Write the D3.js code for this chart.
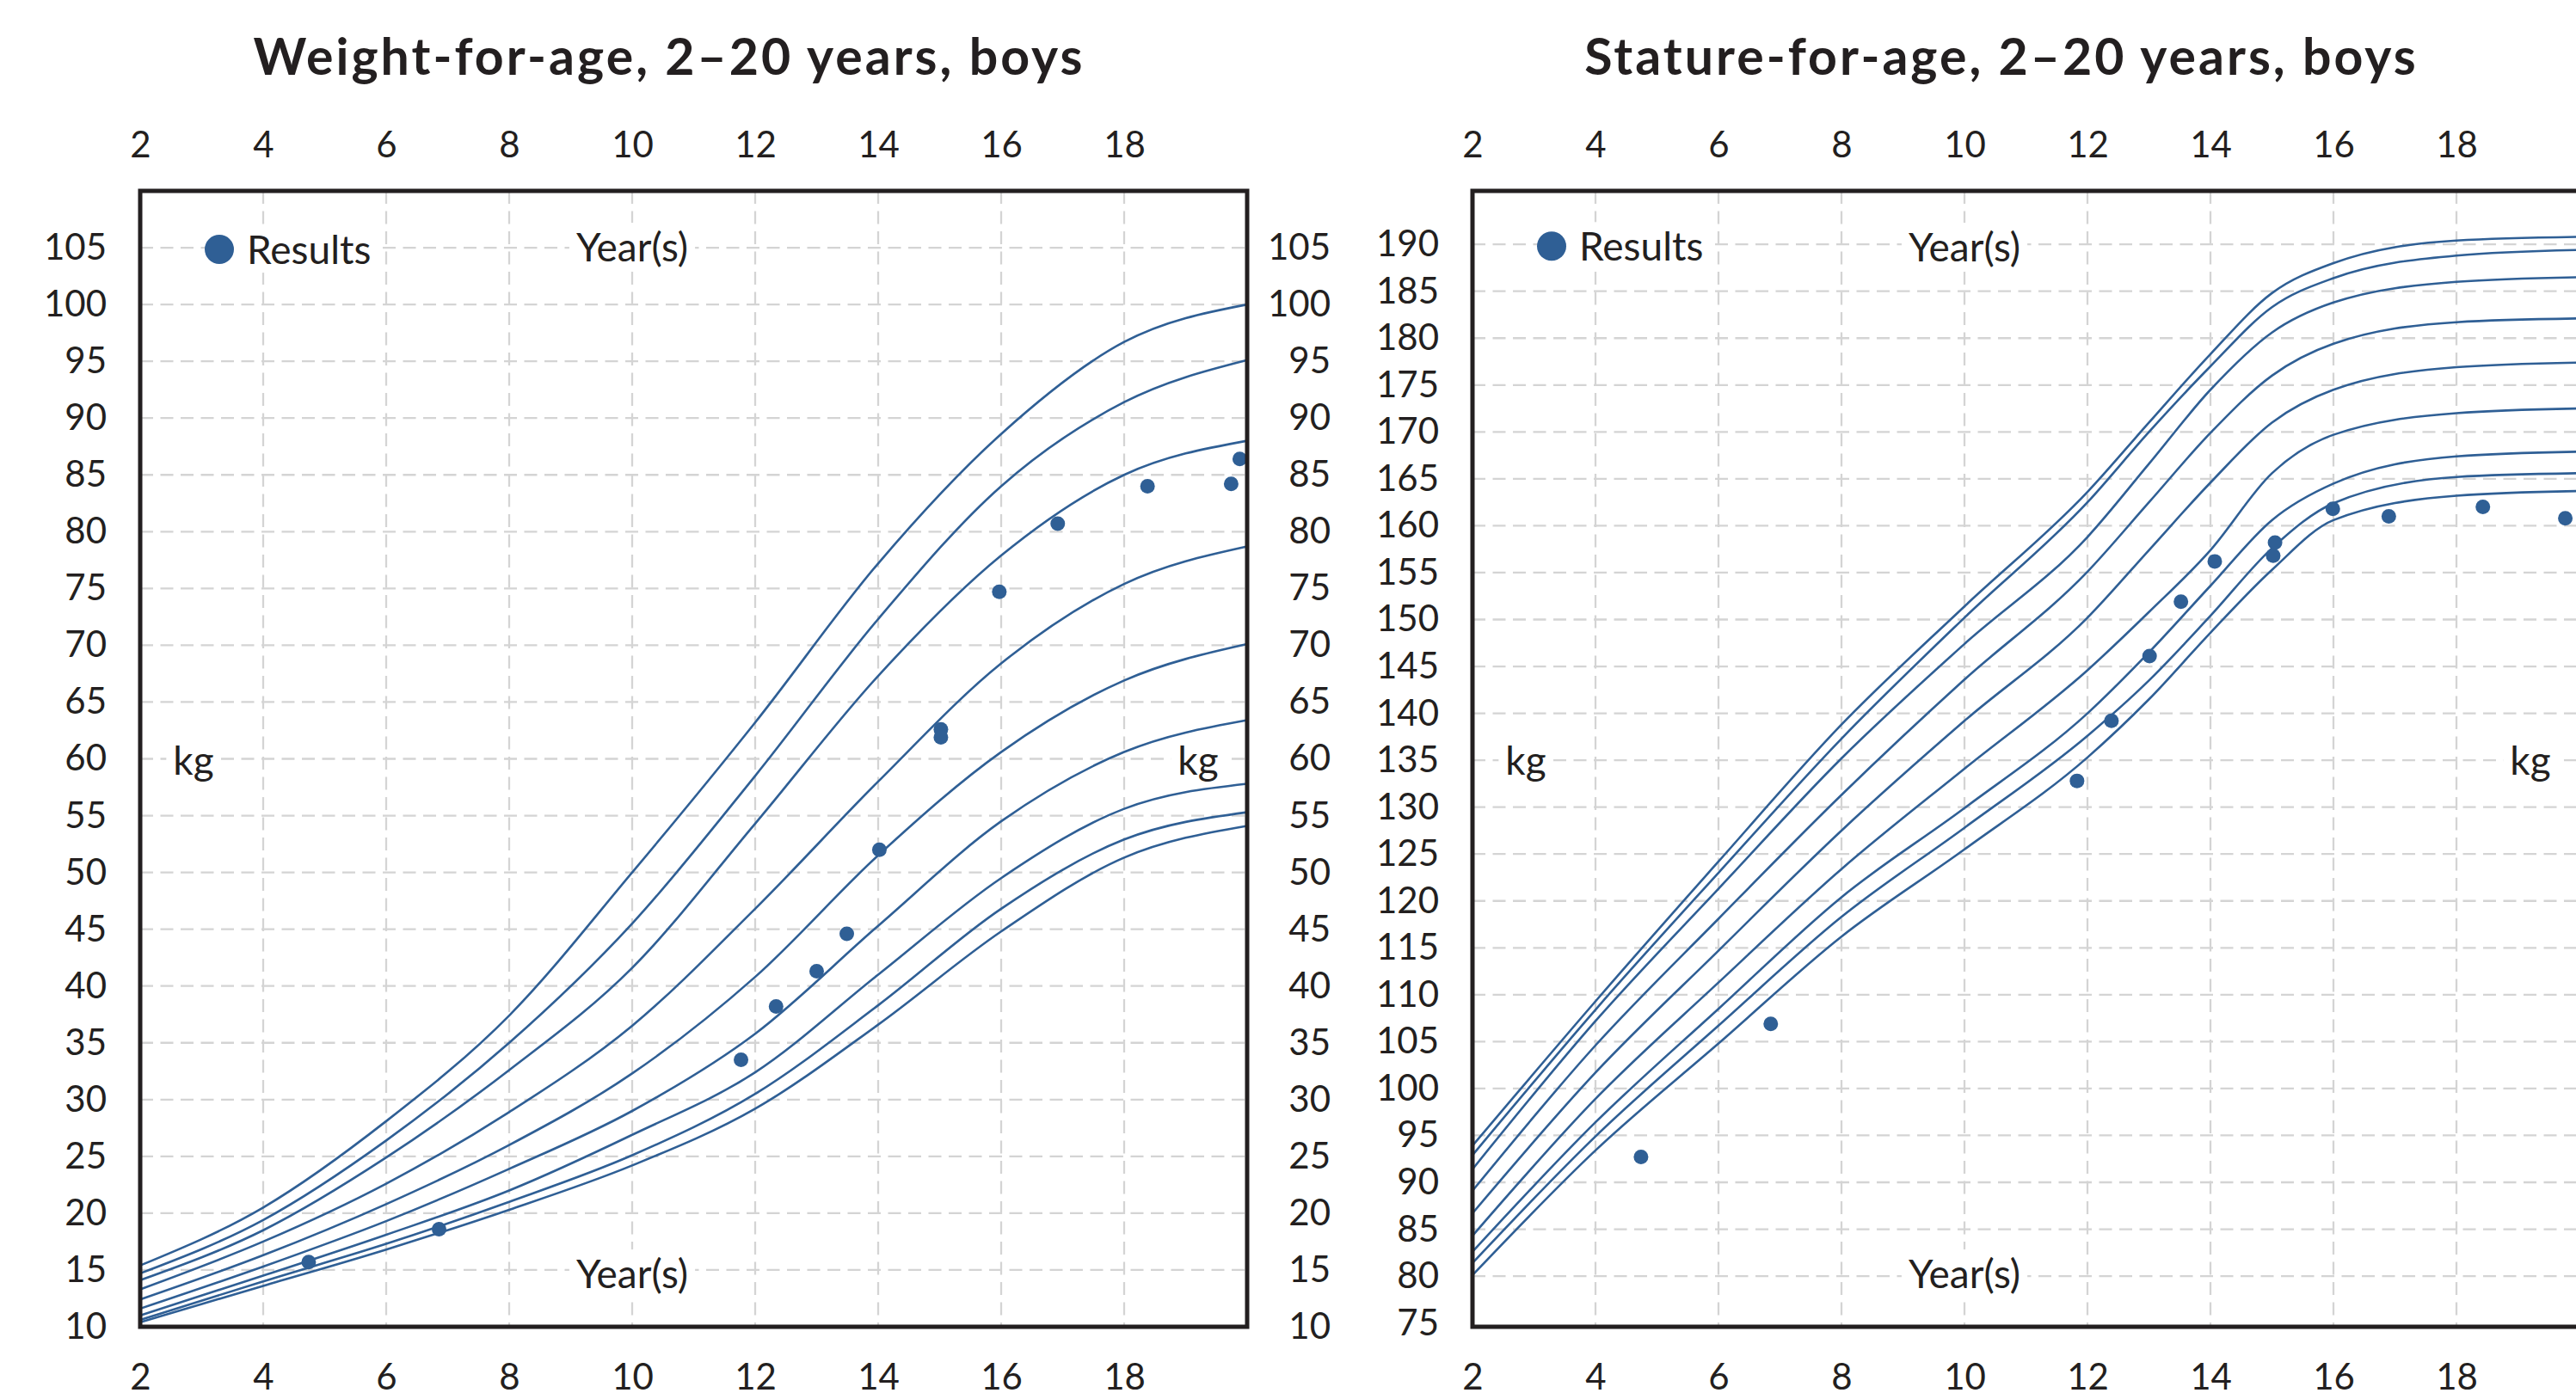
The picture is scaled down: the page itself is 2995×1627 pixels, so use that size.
<!DOCTYPE html>
<html>
<head>
<meta charset="utf-8">
<script src="https://cdn.jsdelivr.net/npm/d3@7"></script>
<style>
  body { margin: 0; background: #fff; }
  svg { display: block; font-family: Lato, "Open Sans", sans-serif; }
  .title { font-size: 59px; font-weight: 700; fill: #231f20; letter-spacing: 3px; }
  .axis text { font-size: 42px; fill: #231f20; font-family: Lato, "Open Sans", sans-serif; }
  .label { font-size: 46px; fill: #231f20; }
</style>
</head>
<body>
<svg width="2995" height="1627"></svg>
<script>
var yearTicks = [2, 4, 6, 8, 10, 12, 14, 16, 18];

// weight-for-age percentile curves (kg), 97th down to 3rd
var weightAges = [2, 4, 6, 8, 10, 12, 14, 16, 18, 20];
var weightP97 = [15.4, 20.5, 28.1, 37.4, 50.0, 63.2, 77.2, 88.6, 96.7, 100.0];
var weightP95 = [14.7, 19.4, 26.4, 35.0, 45.5, 58.5, 72.3, 84.0, 91.4, 95.1];
var weightP90 = [14.1, 18.5, 24.9, 32.6, 41.6, 54.3, 67.3, 77.9, 85.0, 88.0];
var weightP75 = [13.3, 17.5, 22.6, 28.9, 36.5, 46.8, 58.0, 68.4, 75.4, 78.7];
var weightP50 = [12.4, 16.3, 20.8, 26.0, 32.3, 40.8, 51.5, 60.6, 66.9, 70.1];
var weightP25 = [11.6, 15.3, 19.3, 23.9, 29.0, 35.8, 45.3, 54.5, 60.6, 63.4];
var weightP10 = [11.0, 14.5, 18.1, 22.0, 26.9, 32.4, 41.0, 49.5, 55.6, 57.8];
var weightP5 = [10.6, 14.0, 17.3, 21.0, 25.1, 30.5, 38.3, 46.8, 52.9, 55.3];
var weightP3 = [10.4, 13.6, 16.8, 20.3, 24.2, 29.2, 36.6, 44.8, 51.3, 54.1];
var weightTicks = [10, 15, 20, 25, 30, 35, 40, 45, 50, 55, 60, 65, 70, 75, 80, 85, 90, 95, 100, 105];

// stature-for-age percentile curves (cm), 97th down to 3rd
var statureAges = [2, 4, 6, 8, 10, 12, 13, 14, 15, 16, 18, 20];
var statureP97 = [93.9, 109.3, 124.2, 138.8, 151.4, 163.6, 171.0, 178.3, 184.8, 188.0, 190.4, 190.8];
var statureP95 = [92.9, 108.4, 123.0, 137.3, 150.2, 162.5, 170.0, 177.0, 183.3, 186.4, 188.8, 189.4];
var statureP90 = [91.4, 107.2, 121.3, 135.2, 147.4, 158.8, 166.6, 174.5, 180.6, 183.8, 186.0, 186.5];
var statureP75 = [89.1, 104.6, 118.1, 131.3, 143.6, 155.1, 162.5, 169.9, 176.0, 179.4, 181.7, 182.1];
var statureP50 = [86.7, 101.7, 114.7, 127.5, 139.2, 150.2, 157.4, 164.6, 171.0, 174.5, 176.9, 177.4];
var statureP25 = [84.3, 98.9, 111.3, 123.4, 134.1, 144.6, 150.8, 157.4, 165.6, 169.7, 172.0, 172.5];
var statureP10 = [82.6, 96.4, 108.5, 120.4, 129.9, 140.0, 146.5, 153.6, 160.6, 164.5, 167.4, 167.9];
var statureP5 = [81.4, 94.9, 106.7, 118.3, 127.8, 137.6, 143.5, 150.4, 157.6, 162.4, 165.2, 165.6];
var statureP3 = [80.1, 93.4, 104.8, 116.2, 125.5, 135.3, 141.5, 148.6, 155.3, 160.6, 163.2, 163.7];
var statureTicks = [75, 80, 85, 90, 95, 100, 105, 110, 115, 120, 125, 130, 135, 140, 145, 150, 155, 160, 165, 170, 175, 180, 185, 190];

// measured results
var weightResultAges = [4.74, 6.86, 11.77, 12.34, 13.0, 13.49, 14.02, 15.02, 15.02, 15.97, 16.92, 18.38, 19.74, 19.88];
var weightResults = [15.7, 18.6, 33.5, 38.2, 41.3, 44.6, 52.0, 62.6, 61.9, 74.7, 80.7, 84.0, 84.2, 86.4];
var statureResultAges = [4.74, 6.85, 11.83, 12.39, 13.01, 13.52, 14.07, 15.02, 15.05, 15.99, 16.9, 18.43, 19.77];
var statureResults = [92.7, 106.9, 132.8, 139.2, 146.1, 151.9, 156.2, 156.8, 158.2, 161.8, 161.0, 162.0, 160.8];

var blue = "#2f5f95";
var ink = "#231f20";
var plotTop = 222;
var plotBottom = 1543;
var plotWidth = 1287;

function labelWithBox(g, x, y, text, anchor) {
  var t = g.append("text")
    .attr("class", "label")
    .attr("x", x)
    .attr("y", y)
    .attr("dy", "0.35em")
    .attr("text-anchor", anchor || "middle")
    .text(text);
  var b = t.node().getBBox();
  g.insert("rect", function() { return t.node(); })
    .attr("x", b.x - 8)
    .attr("y", b.y)
    .attr("width", b.width + 16)
    .attr("height", b.height)
    .attr("fill", "#fff");
  return t;
}

function drawChart(svg, left, title, yDomain, yTicks, ages, curves, resAges, resValues, rightLabels) {
  var x = d3.scaleLinear().domain([2, 20]).range([left, left + plotWidth]);
  var y = d3.scaleLinear().domain(yDomain).range([plotBottom, plotTop]);
  var g = svg.append("g");

  g.append("text")
    .attr("class", "title")
    .attr("x", left + 615)
    .attr("y", 87)
    .attr("text-anchor", "middle")
    .text(title);

  // grid
  g.selectAll(".vgrid")
    .data(yearTicks.slice(1))
    .enter().append("line")
      .attr("x1", function(d) { return x(d); })
      .attr("x2", function(d) { return x(d); })
      .attr("y1", plotTop)
      .attr("y2", plotBottom)
      .attr("stroke", "#d4d4d4")
      .attr("stroke-width", 2.3)
      .attr("stroke-dasharray", "15,8.5");

  g.selectAll(".hgrid")
    .data(yTicks.slice(1))
    .enter().append("line")
      .attr("x1", left)
      .attr("x2", left + plotWidth)
      .attr("y1", function(d) { return y(d); })
      .attr("y2", function(d) { return y(d); })
      .attr("stroke", "#d4d4d4")
      .attr("stroke-width", 2.3)
      .attr("stroke-dasharray", "15,8.5");

  // labels inside the plot
  var lab = g.append("g");
  var top = y(yTicks[yTicks.length - 1]);
  lab.append("circle")
    .attr("cx", left + 92)
    .attr("cy", top + 2)
    .attr("r", 17)
    .attr("fill", blue);
  labelWithBox(lab, left + 124, top + 3, "Results", "start");
  labelWithBox(lab, x(10), plotTop + 66, "Year(s)");
  labelWithBox(lab, x(10), plotBottom - 61, "Year(s)");
  labelWithBox(lab, left + 62, (plotTop + plotBottom) / 2 + 2, "kg");
  labelWithBox(lab, left + 1230, (plotTop + plotBottom) / 2 + 2, "kg");

  // percentile curves
  var line = d3.line()
    .x(function(d) { return x(d[0]); })
    .y(function(d) { return y(d[1]); })
    .curve(d3.curveMonotoneX);

  g.selectAll(".curve")
    .data(curves)
    .enter().append("path")
      .attr("class", "curve")
      .attr("d", function(c) { return line(ages.map(function(a, i) { return [a, c[i]]; })); })
      .attr("fill", "none")
      .attr("stroke", blue)
      .attr("stroke-width", 2.6);

  g.selectAll(".dot")
    .data(resAges)
    .enter().append("circle")
      .attr("class", "dot")
      .attr("cx", function(d) { return x(d); })
      .attr("cy", function(d, i) { return y(resValues[i]); })
      .attr("r", 8.5)
      .attr("fill", blue);

  // frame
  g.append("rect")
    .attr("x", left)
    .attr("y", plotTop)
    .attr("width", plotWidth)
    .attr("height", plotBottom - plotTop)
    .attr("fill", "none")
    .attr("stroke", ink)
    .attr("stroke-width", 5);

  // axes
  var ax = g.append("g").attr("class", "axis");
  ax.append("g")
    .attr("transform", "translate(0," + plotTop + ")")
    .call(d3.axisTop(x).tickValues(yearTicks).tickSize(0).tickPadding(39));
  ax.append("g")
    .attr("transform", "translate(0," + plotBottom + ")")
    .call(d3.axisBottom(x).tickValues(yearTicks).tickSize(0).tickPadding(43));
  ax.append("g")
    .attr("transform", "translate(" + left + ",0)")
    .call(d3.axisLeft(y).tickValues(yTicks).tickSize(0).tickPadding(39));
  if (rightLabels) {
    ax.append("g")
      .attr("transform", "translate(" + (left + plotWidth) + ",0)")
      .call(d3.axisRight(y).tickValues(yTicks).tickSize(0).tickPadding(97))
      .selectAll("text").attr("text-anchor", "end");
  }
  ax.selectAll(".domain").remove();
  ax.selectAll("text").attr("font-size", null).attr("font-family", null).attr("fill", ink);
}

window.onload = function() {
  var svg = d3.select("svg");
  svg.append("rect").attr("width", 2995).attr("height", 1627).attr("fill", "#fff");

  drawChart(svg, 163, "Weight-for-age, 2\u201320 years, boys", [10, 110], weightTicks, weightAges,
    [weightP97, weightP95, weightP90, weightP75, weightP50, weightP25, weightP10, weightP5, weightP3],
    weightResultAges, weightResults, true);

  // the right chart runs past the edge of the page, so its right-hand labels are not drawn
  drawChart(svg, 1712, "Stature-for-age, 2\u201320 years, boys", [74.6, 195.7], statureTicks, statureAges,
    [statureP97, statureP95, statureP90, statureP75, statureP50, statureP25, statureP10, statureP5, statureP3],
    statureResultAges, statureResults, false);
};
</script>
</body>
</html>
